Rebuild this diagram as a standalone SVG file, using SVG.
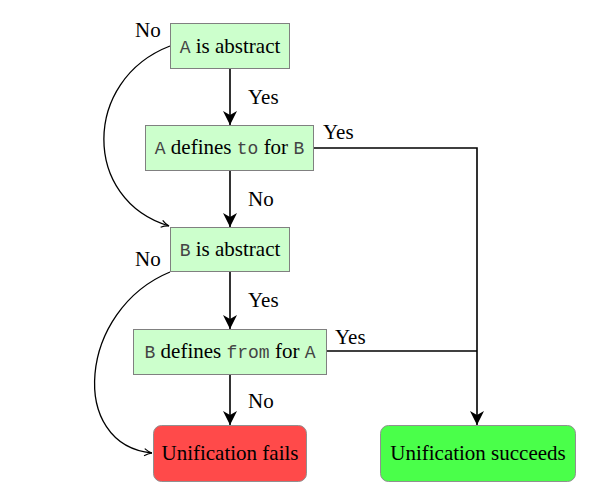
<svg xmlns="http://www.w3.org/2000/svg" width="604" height="498" viewBox="0 0 604 498">
<style>
.box{fill:#ccffcc;stroke:#808080;stroke-width:1}
.t{font-family:"Liberation Serif",serif;font-size:21px;fill:#000}
.m{font-family:"Liberation Mono",monospace;font-size:18px;fill:#444}
.lbl{font-family:"Liberation Serif",serif;font-size:21px;fill:#000}
.c{fill:none;stroke:#000;stroke-width:1.6}
.cv{fill:none;stroke:#000;stroke-width:1.3}
</style>
<defs>
<marker id="big" viewBox="0 0 14 14" refX="14" refY="7" markerWidth="14" markerHeight="14" markerUnits="userSpaceOnUse" orient="auto">
<path d="M0,0 L14,7 L0,14 L4,7 Z" fill="#000"/>
</marker>
<marker id="small" viewBox="0 0 10 10" refX="9.5" refY="5" markerWidth="9" markerHeight="9" markerUnits="userSpaceOnUse" orient="auto">
<path d="M1,1 Q5,4 9.5,5 Q5,6 1,9" fill="none" stroke="#000" stroke-width="1.3"/>
</marker>
</defs>
<g id="connectors">
<line class="c" x1="230" y1="69" x2="230" y2="125" marker-end="url(#big)"/>
<line class="c" x1="230" y1="171" x2="230" y2="227" marker-end="url(#big)"/>
<line class="c" x1="230" y1="272" x2="230" y2="329" marker-end="url(#big)"/>
<line class="c" x1="230" y1="375" x2="230" y2="425" marker-end="url(#big)"/>
<polyline class="c" points="313,148 477,148 477,425" marker-end="url(#big)"/>
<polyline class="c" points="327,351 477,351"/>
<path class="cv" d="M170,46 C82,80 82,200 169,226" marker-end="url(#small)"/>
<path class="cv" d="M170,272 C78,310 68,445 152,453" marker-end="url(#small)"/>
<text class="lbl" x="248" y="104">Yes</text>
<text class="lbl" x="248" y="206">No</text>
<text class="lbl" x="248" y="307">Yes</text>
<text class="lbl" x="248" y="408">No</text>
<text class="lbl" x="323" y="139">Yes</text>
<text class="lbl" x="335" y="344">Yes</text>
<text class="lbl" x="135" y="37">No</text>
<text class="lbl" x="135" y="266">No</text>
</g>
<g id="n1">
<rect class="box" x="170.5" y="23.5" width="119" height="45"/>
<text class="t" x="230" y="53" text-anchor="middle"><tspan class="m">A</tspan> is abstract</text>
</g>
<g id="n2">
<rect class="box" x="145.5" y="125.5" width="168" height="45"/>
<text class="t" x="229.5" y="154" text-anchor="middle"><tspan class="m">A</tspan> defines <tspan class="m">to</tspan> for <tspan class="m">B</tspan></text>
</g>
<g id="n3">
<rect class="box" x="170.5" y="227.5" width="119" height="44"/>
<text class="t" x="230" y="256" text-anchor="middle"><tspan class="m">B</tspan> is abstract</text>
</g>
<g id="n4">
<rect class="box" x="133.5" y="329.5" width="193" height="45"/>
<text class="t" x="230" y="358" text-anchor="middle"><tspan class="m">B</tspan> defines <tspan class="m">from</tspan> for <tspan class="m">A</tspan></text>
</g>
<g id="fail">
<rect x="153.5" y="425.5" width="153" height="56" rx="8" fill="#ff4a4a" stroke="#909090"/>
<text class="t" x="230" y="460" text-anchor="middle">Unification fails</text>
</g>
<g id="succ">
<rect x="380.5" y="425.5" width="195" height="56" rx="8" fill="#4aff4a" stroke="#909090"/>
<text class="t" x="478" y="460" text-anchor="middle">Unification succeeds</text>
</g>
</svg>
